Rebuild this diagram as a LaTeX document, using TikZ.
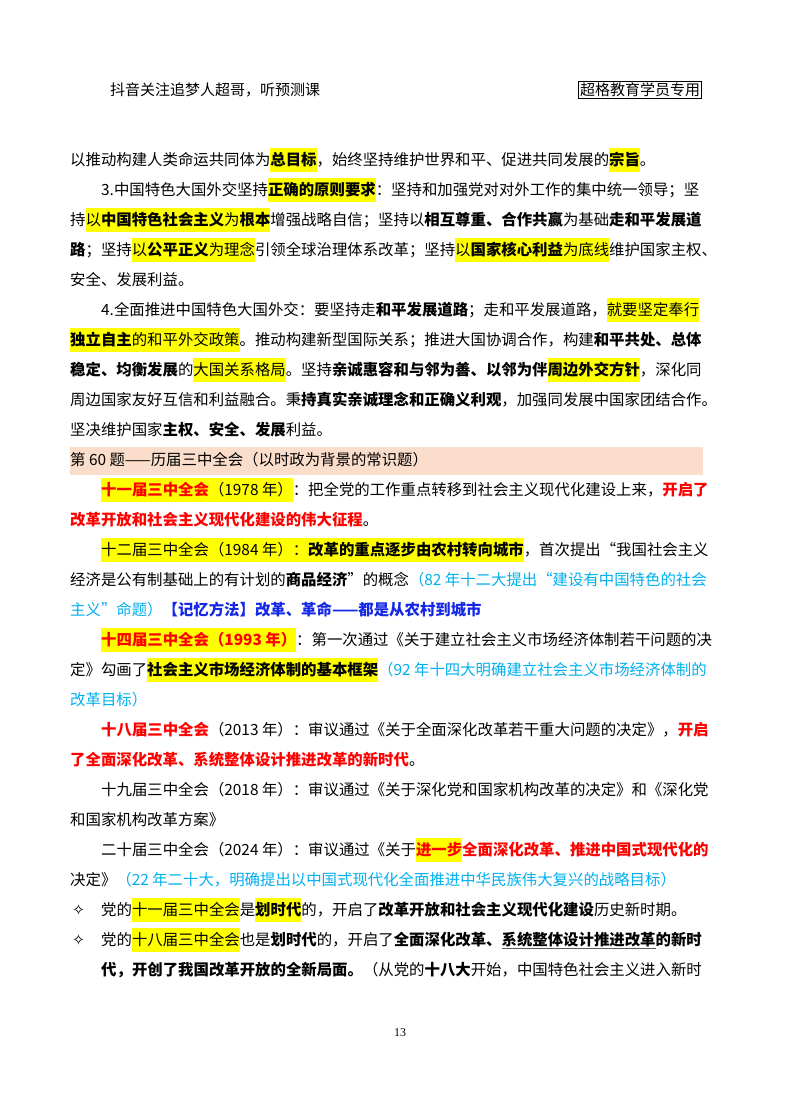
\documentclass[tikz,border=0pt]{standalone}
\usepackage{fontspec}
\setmainfont{Noto Sans CJK SC}
\newfontfamily\djv{DejaVu Sans}
\newfontfamily\tms{Liberation Serif}
\definecolor{hly}{RGB}{255,255,0}
\definecolor{rd}{RGB}{255,0,0}
\definecolor{cy}{RGB}{0,176,240}
\definecolor{bl}{RGB}{20,40,230}
\definecolor{bar}{RGB}{251,221,203}
\definecolor{ulg}{RGB}{90,90,90}
\newcommand\hlt[1]{\begingroup\setlength\fboxsep{0pt}\colorbox{hly}{\rule[-6.5pt]{0pt}{24pt}#1}\endgroup}
\newcommand\rb[1]{\textcolor{rd}{\textbf{#1}}}
\newcommand\ulg[1]{\leavevmode\rlap{\textcolor{ulg}{\rule[-3pt]{\widthof{#1}}{0.9pt}}}#1}
\usepackage{calc}
\tikzset{ln/.style={anchor=base west,inner sep=0pt,font=\fontsize{15.4}{18}\selectfont}}
\newcommand\Ln[4]{\node[ln] (#1) at (#2,{-(160+30*#3+5.5)}) {#4};}
\begin{document}
\begin{tikzpicture}[x=1pt,y=1pt]
\useasboundingbox (0,0) rectangle (800,-1114);
\fill[white] (0,0) rectangle (800,-1114);
\node[anchor=west,inner sep=0pt,font=\fontsize{15}{18}\selectfont] (hd) at (110,-90) {抖音关注追梦人超哥，听预测课};
\node[draw,line width=0.8pt,inner sep=1.5pt,font=\fontsize{15}{18}\selectfont] (badge) at (640,-89.5) {超格教育学员专用};
\fill[bar] (70,-447) rectangle (703,-475);
\Ln{l0}{70}{0}{以推动构建人类命运共同体为\hlt{\textbf{总目标}}，始终坚持维护世界和平、促进共同发展的\hlt{\textbf{宗旨}}。}
\Ln{l1}{101}{1}{3.中国特色大国外交坚持\hlt{\textbf{正确的原则要求}}：坚持和加强党对对外工作的集中统一领导；坚}
\Ln{l2}{70}{2}{持\hlt{以\textbf{中国特色社会主义}为\textbf{根本}}增强战略自信；坚持以\textbf{相互尊重、合作共赢}为基础\textbf{走和平发展道}}
\Ln{l3}{70}{3}{\textbf{路}；坚持\hlt{以\textbf{公平正义}为理念}引领全球治理体系改革；坚持\hlt{以\textbf{国家核心利益}为底线}维护国家主权、}
\Ln{l4}{70}{4}{安全、发展利益。}
\Ln{l5}{101}{5}{4.全面推进中国特色大国外交：要坚持走\textbf{和平发展道路}；走和平发展道路，\hlt{就要坚定奉行}}
\Ln{l6}{70}{6}{\hlt{\textbf{独立自主}的和平外交政策}。推动构建新型国际关系；推进大国协调合作，构建\textbf{和平共处、总体}}
\Ln{l7}{70}{7}{\textbf{稳定、均衡发展}的\hlt{大国关系格局}。坚持\textbf{亲诚惠容和与邻为善、以邻为伴}\hlt{\textbf{周边外交方针}}，深化同}
\Ln{l8}{70}{8}{周边国家友好互信和利益融合。秉\textbf{持真实亲诚理念和正确义利观}，加强同发展中国家团结合作。}
\Ln{l9}{70}{9}{坚决维护国家\textbf{主权、安全、发展}利益。}
\Ln{l10}{70}{10}{第 60 题——历届三中全会（以时政为背景的常识题）}
\Ln{l11}{101}{11}{\hlt{\rb{十一届三中全会}（1978 年）}：把全党的工作重点转移到社会主义现代化建设上来，\rb{开启了}}
\Ln{l12}{70}{12}{\rb{改革开放和社会主义现代化建设的伟大征程}。}
\Ln{l13}{101}{13}{\hlt{十二届三中全会（1984 年）：\textbf{改革的重点逐步由农村转向城市}}，首次提出“我国社会主义}
\Ln{l14}{70}{14}{经济是公有制基础上的有计划的\textbf{商品经济}”的概念\textcolor{cy}{（82 年十二大提出“建设有中国特色的社会}}
\Ln{l15}{70}{15}{\textcolor{cy}{主义”命题）}\textcolor{bl}{\textbf{【记忆方法】改革、革命——都是从农村到城市}}}
\Ln{l16}{101}{16}{\hlt{\rb{十四届三中全会（1993 年）}}：第一次通过《关于建立社会主义市场经济体制若干问题的决}
\Ln{l17}{70}{17}{定》勾画了\hlt{\textbf{社会主义市场经济体制的基本框架}}\textcolor{cy}{（92 年十四大明确建立社会主义市场经济体制的}}
\Ln{l18}{70}{18}{\textcolor{cy}{改革目标）}}
\Ln{l19}{101}{19}{\rb{十八届三中全会}（2013 年）：审议通过《关于全面深化改革若干重大问题的决定》，\rb{开启}}
\Ln{l20}{70}{20}{\rb{了全面深化改革、系统整体设计推进改革的新时代}。}
\Ln{l21}{101}{21}{十九届三中全会（2018 年）：审议通过《关于深化党和国家机构改革的决定》和《深化党}
\Ln{l22}{70}{22}{和国家机构改革方案》}
\Ln{l23}{101}{23}{二十届三中全会（2024 年）：审议通过《关于\hlt{\rb{进一步}}\rb{全面深化改革、推进中国式现代化的}}
\Ln{l24}{70}{24}{决定》\textcolor{cy}{（22 年二十大，明确提出以中国式现代化全面推进中华民族伟大复兴的战略目标）}}
\Ln{s1}{72}{25}{{\djv ✧}}
\Ln{l25}{101}{25}{党的\hlt{十一届三中全会}是\hlt{\textbf{划时代}}的，开启了\textbf{改革开放和社会主义现代化建设}历史新时期。}
\Ln{s2}{72}{26}{{\djv ✧}}
\Ln{l26}{101}{26}{党的\hlt{十八届三中全会}也是\textbf{划时代}的，开启了\textbf{全面深化改革、\ulg{系统整体设计推进改革}的新时}}
\Ln{l27}{101}{27}{\textbf{代，开创了我国改革开放的全新局面。}（从党的\textbf{十八大}开始，中国特色社会主义进入新时}
\node[font=\tms\fontsize{12}{14}\selectfont] (pg) at (400,-1033) {13};
\end{tikzpicture}
\end{document}
